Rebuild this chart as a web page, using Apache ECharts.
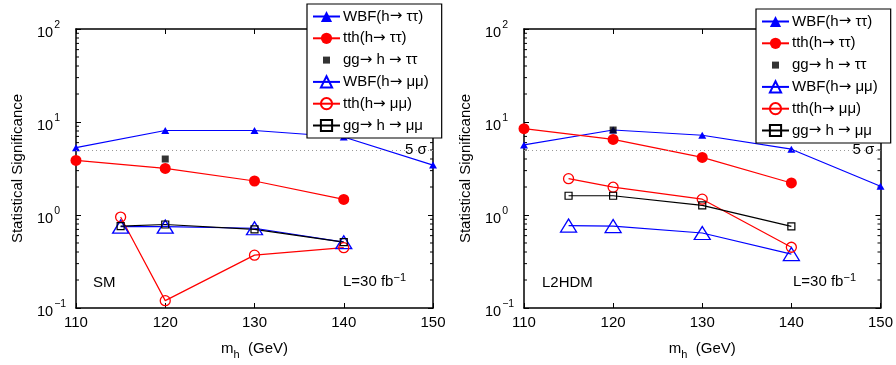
<!DOCTYPE html>
<html>
<head>
<meta charset="utf-8">
<script src="https://cdn.jsdelivr.net/npm/echarts@6/dist/echarts.min.js"></script>
<style>
  html, body { margin: 0; padding: 0; background: #fff; }
  #chart { width: 896px; height: 365px; }
</style>
</head>
<body>
<div id="chart"></div>
<script>
// Higgs mass points (GeV)
const massTT = [110, 120, 130, 140, 150];
const massTth = [110, 120, 130, 140];
const massMM = [115, 120, 130, 140];
const massGgTT = [120];

// SM panel
const smWbfTT = [5.3, 8.1, 8.1, 6.9, 3.44];
const smTthTT = [3.86, 3.17, 2.32, 1.47];
const smGgTT = [4.0];
const smWbfMM = [0.75, 0.75, 0.72, 0.51];
const smTthMM = [0.95, 0.12, 0.37, 0.445];
const smGgMM = [0.76, 0.79, 0.70, 0.51];

// L2HDM panel
const l2WbfTT = [5.67, 8.2, 7.2, 5.1, 2.04];
const l2TthTT = [8.48, 6.5, 4.16, 2.21];
const l2GgTT = [8.2];
const l2WbfMM = [0.77, 0.76, 0.64, 0.38];
const l2TthMM = [2.46, 1.99, 1.48, 0.45];
const l2GgMM = [1.61, 1.61, 1.27, 0.755];

const fiveSigma = 5;
const minorTickVals = [0.2, 0.3, 0.4, 0.5, 0.6, 0.7, 0.8, 0.9,
  2, 3, 4, 5, 6, 7, 8, 9, 20, 30, 40, 50, 60, 70, 80, 90];

const names = ['WBF(h\u2192 \u03c4\u03c4)', 'tth(h\u2192 \u03c4\u03c4)', 'gg\u2192 h \u2192 \u03c4\u03c4',
  'WBF(h\u2192 \u03bc\u03bc)', 'tth(h\u2192 \u03bc\u03bc)', 'gg\u2192 h \u2192 \u03bc\u03bc'];

const FONT = 'Liberation Sans, Arial, sans-serif';
const zip = (xs, ys) => xs.map((x, i) => [x, ys[i]]);

const chart = echarts.init(document.getElementById('chart'));

function panelSeries(idx, vals) {
  const [wbfTT, tthTT, ggTT, wbfMM, tthMM, ggMM] = vals;
  const base = { xAxisIndex: idx * 2, yAxisIndex: idx * 2, animation: false, z: 3 };
  return [
    Object.assign({
      type: 'line', name: names[0], data: zip(massTT, wbfTT),
      symbol: 'triangle', symbolSize: [8, 7], color: '#0000ff',
      lineStyle: { width: 1.2, color: '#0000ff' },
      markLine: {
        silent: true, symbol: 'none',
        lineStyle: { type: [1, 3], color: '#999', width: 1 },
        label: { show: true, formatter: '5 \u03c3', position: 'end', distance: -28,
          color: '#000', fontSize: 15, fontFamily: FONT },
        data: [{ yAxis: fiveSigma }]
      }
    }, base),
    Object.assign({
      type: 'line', name: names[1], data: zip(massTth, tthTT),
      symbol: 'circle', symbolSize: 11, color: '#ff0000',
      lineStyle: { width: 1.2, color: '#ff0000' }
    }, base),
    Object.assign({
      type: 'scatter', name: names[2], data: zip(massGgTT, ggTT),
      symbol: 'rect', symbolSize: 7, color: '#000'
    }, base),
    Object.assign({
      type: 'line', name: names[3], data: zip(massMM, wbfMM),
      symbol: 'triangle', symbolSize: [16, 13], color: '#0000ff',
      itemStyle: { color: 'rgba(0,0,0,0)', borderColor: '#0000ff', borderWidth: 1.3 },
      lineStyle: { width: 1.2, color: '#0000ff' }
    }, base),
    Object.assign({
      type: 'line', name: names[4], data: zip(massMM, tthMM),
      symbol: 'circle', symbolSize: 10, color: '#ff0000',
      itemStyle: { color: 'rgba(0,0,0,0)', borderColor: '#ff0000', borderWidth: 1.3 },
      lineStyle: { width: 1.2, color: '#ff0000' }
    }, base),
    Object.assign({
      type: 'line', name: names[5], data: zip(massMM, ggMM),
      symbol: 'rect', symbolSize: 7, color: '#000',
      itemStyle: { color: 'rgba(0,0,0,0)', borderColor: '#000', borderWidth: 1.2 },
      lineStyle: { width: 1.2, color: '#000' }
    }, base),
    // minor ticks on the log axis (left and right spines)
    {
      type: 'custom', xAxisIndex: idx * 2, yAxisIndex: idx * 2, silent: true,
      animation: false, z: 2,
      data: minorTickVals.map(v => [v]),
      renderItem: function (params, api) {
        const v = api.value(0);
        const l = api.coord([110, v]);
        const r = api.coord([150, v]);
        return {
          type: 'group', children: [
            { type: 'line', shape: { x1: l[0], y1: l[1], x2: l[0] + 3, y2: l[1] }, style: { stroke: '#000', lineWidth: 1 } },
            { type: 'line', shape: { x1: r[0], y1: r[1], x2: r[0] - 3, y2: r[1] }, style: { stroke: '#000', lineWidth: 1 } }
          ]
        };
      }
    }
  ];
}

const axisLineStyle = { lineStyle: { color: '#000', width: 1.5 } };
const tickStyle = { show: true, inside: true, length: 5, lineStyle: { color: '#000', width: 1 } };

function xAxes(gi) {
  return [
    {
      type: 'value', gridIndex: gi, min: 110, max: 150, interval: 10, position: 'bottom',
      axisLine: axisLineStyle, axisTick: tickStyle, splitLine: { show: false },
      axisLabel: { color: '#000', fontSize: 15, fontFamily: FONT, margin: 7 },
      name: '{a|m}{s|h}{a|  (GeV)}', nameLocation: 'middle', nameGap: 30,
      nameTextStyle: { rich: {
        a: { fontSize: 15, fontFamily: FONT, color: '#000' },
        s: { fontSize: 11, fontFamily: FONT, color: '#000', padding: [11, 0, 0, 0] }
      } }
    },
    {
      type: 'value', gridIndex: gi, min: 110, max: 150, interval: 10, position: 'top',
      axisLine: axisLineStyle, axisTick: tickStyle, splitLine: { show: false },
      axisLabel: { show: false }
    }
  ];
}

function yAxes(gi) {
  return [
    {
      type: 'log', logBase: 10, gridIndex: gi, min: 0.1, max: 100, position: 'left',
      axisLine: axisLineStyle, axisTick: tickStyle, splitLine: { show: false },
      axisLabel: {
        margin: 39, align: 'left',
        formatter: function (v) {
          const e = Math.round(Math.log10(v));
          return '{b|10}{s|' + (e < 0 ? '\u2212' + (-e) : e) + '}';
        },
        rich: {
          b: { fontSize: 14.5, fontFamily: FONT, color: '#000', padding: [7, 0, 0, 0] },
          s: { fontSize: 10.5, fontFamily: FONT, color: '#000', padding: [0, 0, 7, 1] }
        }
      },
      name: 'Statistical Significance', nameLocation: 'middle', nameGap: 51,
      nameTextStyle: { fontSize: 15, fontFamily: FONT, color: '#000' }
    },
    {
      type: 'log', logBase: 10, gridIndex: gi, min: 0.1, max: 100, position: 'right',
      axisLine: axisLineStyle, axisTick: tickStyle, splitLine: { show: false },
      axisLabel: { show: false }
    }
  ];
}

// small square icon for the marker-only entry (invisible moves pad the box)
const ggIcon = 'path://M0,0 M14,14 M3.5,3.5 L10.5,3.5 L10.5,10.5 L3.5,10.5 Z';

function legendAt(left, top) {
  return {
    data: names.map((n, i) => (i === 2 ? { name: n, icon: ggIcon } : n)),
    orient: 'vertical', left: left, top: top,
    backgroundColor: '#fff', borderColor: '#000', borderWidth: 1.2, borderRadius: 0,
    padding: [5, 13, 5, 5], itemGap: 6.8, itemWidth: 27, itemHeight: 14,
    selectedMode: false,
    formatter: function (n) {
      return n.split('\u2192').map(p => '{a|' + p + '}').join('{r|\u2192}');
    },
    textStyle: {
      fontSize: 15, fontFamily: FONT, color: '#000', padding: [0, 0, 0, -2],
      rich: {
        a: { fontSize: 15, fontFamily: FONT, color: '#000' },
        r: { fontSize: 15, fontFamily: 'DejaVu Sans', color: '#000' }
      }
    }
  };
}

function note(left, top, text) {
  return {
    type: 'text', left: left, top: top, z: 10,
    style: {
      text: text, fill: '#000', font: '15px ' + FONT,
      rich: {
        a: { fontSize: 15, fontFamily: FONT, fill: '#000' },
        s: { fontSize: 11, fontFamily: FONT, fill: '#000', padding: [0, 0, 8, 0] }
      }
    }
  };
}

const option = {
  backgroundColor: '#fff',
  animation: false,
  grid: [
    { left: 76, top: 29, width: 357, height: 281 },
    { left: 524, top: 29, width: 359, height: 281 }
  ],
  xAxis: xAxes(0).concat(xAxes(1)),
  yAxis: yAxes(0).concat(yAxes(1)),
  legend: [legendAt(307, 4), legendAt(756, 9)],
  series: panelSeries(0, [smWbfTT, smTthTT, smGgTT, smWbfMM, smTthMM, smGgMM])
    .concat(panelSeries(1, [l2WbfTT, l2TthTT, l2GgTT, l2WbfMM, l2TthMM, l2GgMM])),
  graphic: [
    note(93, 275, 'SM'),
    note(343, 272, '{a|L=30 fb}{s|\u22121}'),
    note(542, 275, 'L2HDM'),
    note(793, 272, '{a|L=30 fb}{s|\u22121}')
  ]
};

chart.setOption(option);
</script>
</body>
</html>
